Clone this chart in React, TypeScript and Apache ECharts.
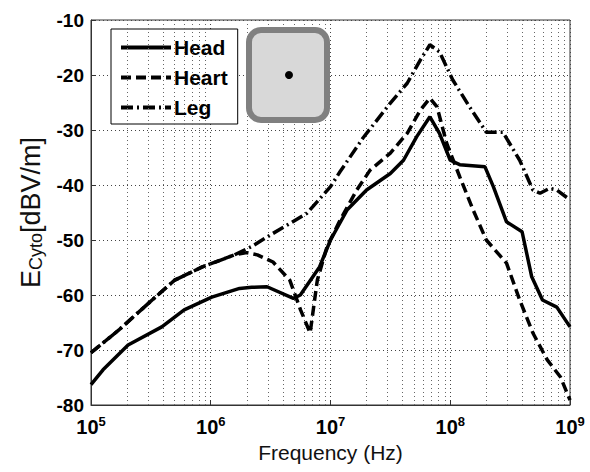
import React, { useEffect, useRef } from "react";
import * as echarts from "echarts";

// Data: [frequency (Hz), E_Cyto (dBV/m)]
const headData: [number, number][] = [
  [1e5, -76.3], [1.26e5, -73.6], [2.04e5, -69.1], [3.9e5, -65.8], [6.0e5, -62.7],
  [1.02e6, -60.4], [1.74e6, -58.8], [2.2e6, -58.6], [2.95e6, -58.5], [4.9e6, -60.6],
  [5.6e6, -60.0], [8.1e6, -54.9], [1e7, -50], [1.38e7, -44.5], [2.0e7, -40.9],
  [3.16e7, -37.9], [4.07e7, -35.5], [5.25e7, -31.2], [6.76e7, -27.6], [8.13e7, -30.6],
  [1e8, -35.5], [1.2e8, -36.3], [1.95e8, -36.7], [2.29e8, -40.3], [2.95e8, -46.7],
  [3.98e8, -48.5], [4.79e8, -56.7], [5.89e8, -60.9], [7.76e8, -62.2], [1e9, -65.8],
];

const heartData: [number, number][] = [
  [1e5, -70.5], [1.7e5, -66.4], [3.24e5, -60.9], [5.0e5, -57.3], [8.5e5, -54.9],
  [1.58e6, -52.7], [2.0e6, -52.3], [2.45e6, -52.7], [3.31e6, -54.0], [4.57e6, -57.3],
  [5.62e6, -62.7], [6.76e6, -66.9], [7.76e6, -57.3], [9.33e6, -51.3], [1.2e7, -46.4],
  [1.66e7, -40.9], [2.14e7, -37.3], [3.16e7, -34.2], [4.37e7, -30.6], [5.62e7, -26.4],
  [6.76e7, -24.2], [7.76e7, -25.8], [9.33e7, -32.4], [1.2e8, -38.5], [1.55e8, -44.5],
  [2.0e8, -50], [2.95e8, -54.2], [3.8e8, -60.9], [4.9e8, -66.9], [6.46e8, -71.8],
  [8.32e8, -74.9], [1e9, -79.1],
];

const legData: [number, number][] = [
  [1e5, -70.5], [1.7e5, -66.4], [3.24e5, -60.9], [5.0e5, -57.3], [8.5e5, -54.9],
  [1.58e6, -52.7], [2.19e6, -51.2], [3.31e6, -48.8], [6.31e6, -45.2], [1e7, -40.3],
  [1.2e7, -37.6], [1.86e7, -31.5], [3.16e7, -25.1], [4.37e7, -21.5], [5.62e7, -17.3],
  [6.76e7, -14.5], [8.13e7, -15.8], [1.05e8, -20.9], [1.45e8, -25.8], [2.0e8, -30.4],
  [2.75e8, -30.4], [3.8e8, -35.5], [4.9e8, -40.9], [5.62e8, -41.5], [6.76e8, -40.6],
  [7.76e8, -40.9], [1e9, -42.7],
];

const seriesNames = ["Head", "Heart", "Leg"];
const decades = [1e5, 1e6, 1e7, 1e8];
const minorMultipliers = [2, 3, 4, 5, 6, 7, 8, 9];
const yTicks = { min: -80, max: -10, interval: 10 };

const FONT = "'Liberation Sans', Arial, Helvetica, sans-serif";

export default function App() {
  const ref = useRef<HTMLDivElement>(null);

  useEffect(() => {
    document.body.style.margin = "0";
    if (!ref.current) return;
    const chart = echarts.init(ref.current, undefined, { renderer: "svg" });

    const minorLines: { xAxis: number }[] = [];
    decades.forEach((d) => minorMultipliers.forEach((m) => minorLines.push({ xAxis: d * m })));

    const lineBase = { color: "#000", width: 3.5, cap: "butt" as const };

    chart.setOption({
      animation: false,
      backgroundColor: "#fff",
      textStyle: { fontFamily: FONT },
      grid: {
        left: 91,
        right: 20,
        top: 20,
        bottom: 67,
        show: true,
        borderColor: "#333",
        borderWidth: 1,
        backgroundColor: "#fff",
      },
      legend: {
        data: seriesNames,
        orient: "vertical",
        left: 111,
        top: 29,
        itemWidth: 50,
        itemHeight: 14,
        itemGap: 9,
        padding: [8, 10, 6, 8],
        borderColor: "#000",
        borderWidth: 1,
        backgroundColor: "#fff",
        selectedMode: false,
        itemStyle: { opacity: 0, borderWidth: 0 },
        lineStyle: { width: 4 },
        textStyle: { fontFamily: FONT, fontWeight: "bold", fontSize: 21, color: "#000", padding: [0, 0, 0, -2] },
      },
      xAxis: {
        type: "log",
        logBase: 10,
        min: 1e5,
        max: 1e9,
        splitNumber: 4,
        name: "Frequency (Hz)",
        nameLocation: "middle",
        nameGap: 37,
        nameTextStyle: { fontFamily: FONT, fontSize: 21, color: "#111" },
        axisLine: { show: true, lineStyle: { color: "#333", width: 1 } },
        axisTick: { show: true, inside: true, length: 5, lineStyle: { color: "#333" } },
        axisLabel: {
          margin: 10,
          formatter: (v: number) => "10{sup|" + Math.round(Math.log10(v)) + "}",
          rich: {
            sup: { fontSize: 13, fontWeight: "bold", color: "#000", verticalAlign: "top", padding: [0, 0, 10, 0] },
          },
          fontFamily: FONT,
          fontSize: 20,
          fontWeight: "bold",
          color: "#000",
        },
        splitLine: { show: true, lineStyle: { color: "#444", type: [1, 3], width: 1 } },
      },
      yAxis: {
        type: "value",
        min: yTicks.min,
        max: yTicks.max,
        interval: yTicks.interval,
        name: "E{sub|Cyto}[dBV/m]",
        nameLocation: "middle",
        nameGap: 46,
        nameTextStyle: {
          fontFamily: FONT,
          fontSize: 27,
          color: "#111",
          rich: {
            sub: { fontFamily: FONT, fontSize: 18, color: "#111", verticalAlign: "bottom", padding: [11, 0, 0, 0] },
          },
        },
        axisLine: { show: true, lineStyle: { color: "#333", width: 1 } },
        axisTick: { show: true, inside: true, length: 5, lineStyle: { color: "#333" } },
        axisLabel: { margin: 7, fontFamily: FONT, fontSize: 19, fontWeight: "bold", color: "#000" },
        splitLine: { show: true, lineStyle: { color: "#444", type: [1, 3], width: 1 } },
      },
      graphic: [
        {
          type: "rect",
          shape: { x: 249, y: 30, width: 78, height: 90, r: 12 },
          style: { fill: "#d8d8d8", stroke: "#808080", lineWidth: 6 },
          z: 10,
        },
        {
          type: "circle",
          shape: { cx: 289, cy: 75, r: 4 },
          style: { fill: "#000" },
          z: 11,
        },
      ],
      series: [
        {
          name: "minorGrid",
          type: "line",
          data: [],
          silent: true,
          z: 1,
          markLine: {
            silent: true,
            symbol: "none",
            label: { show: false },
            lineStyle: { color: "#666", type: [1, 3], width: 1 },
            data: minorLines,
            animation: false,
          },
        },
        {
          name: "Head",
          type: "line",
          data: headData,
          showSymbol: false,
          symbol: "none",
          z: 5,
          lineStyle: { ...lineBase, type: "solid" },
          itemStyle: { color: "#000" },
        },
        {
          name: "Heart",
          type: "line",
          data: heartData,
          showSymbol: false,
          symbol: "none",
          z: 5,
          lineStyle: { ...lineBase, type: [10, 5] },
          itemStyle: { color: "#000" },
        },
        {
          name: "Leg",
          type: "line",
          data: legData,
          showSymbol: false,
          symbol: "none",
          z: 5,
          lineStyle: { ...lineBase, type: [12, 4, 2, 4] },
          itemStyle: { color: "#000" },
        },
      ],
    });

    return () => chart.dispose();
  }, []);

  return <div ref={ref} style={{ width: 590, height: 472 }} />;
}
